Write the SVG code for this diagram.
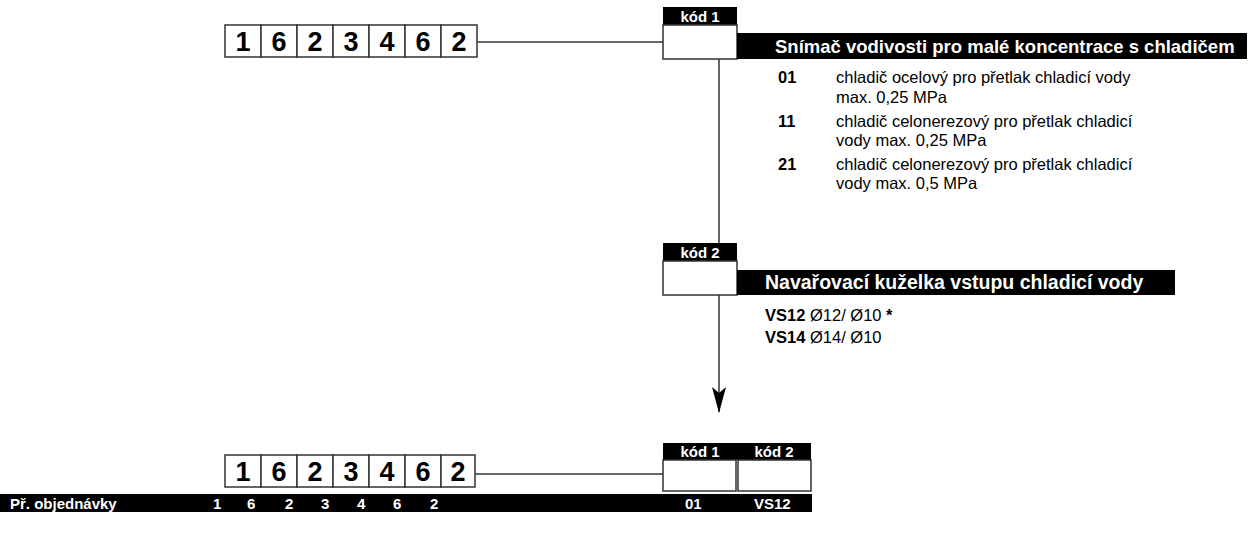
<svg xmlns="http://www.w3.org/2000/svg" width="1258" height="539" viewBox="0 0 1258 539">
<style>
.box{fill:#fff;stroke:#333;stroke-width:1.5}
.dig{font-family:"Liberation Sans",Arial,sans-serif;font-weight:bold;font-size:27px;fill:#000;text-anchor:middle}
.lbl{font-family:"Liberation Sans",Arial,sans-serif;font-weight:bold;font-size:15px;fill:#fff;text-anchor:middle}
.bar{fill:#000}
.ttl{font-family:"Liberation Sans",Arial,sans-serif;font-weight:bold;font-size:18.5px;fill:#fff}
.ord{font-family:"Liberation Sans",Arial,sans-serif;font-weight:bold;font-size:15px;fill:#fff}
.txt{font-family:"Liberation Sans",Arial,sans-serif;font-size:16.5px;fill:#000}
.b{font-weight:bold}
.ln{stroke:#333;stroke-width:1.5;fill:none}
</style>
<defs>
<marker id="arr" markerWidth="26" markerHeight="14" refX="25" refY="7" orient="auto" markerUnits="userSpaceOnUse" viewBox="0 0 26 14">
<path d="M0,0 L26,7 L0,14 L6,7 Z" fill="#000"/>
</marker>
</defs>
<g id="connectors">
<line class="ln" x1="477" y1="42" x2="663" y2="42"/>
<line class="ln" x1="719" y1="59" x2="719" y2="243"/>
<line class="ln" x1="719" y1="295" x2="719" y2="412" marker-end="url(#arr)"/>
<line class="ln" x1="475" y1="474" x2="663" y2="474"/>
</g>
<g id="number-top">
<rect class="box" x="225" y="25" width="36" height="32"/>
<rect class="box" x="261" y="25" width="36" height="32"/>
<rect class="box" x="297" y="25" width="36" height="32"/>
<rect class="box" x="333" y="25" width="36" height="32"/>
<rect class="box" x="369" y="25" width="36" height="32"/>
<rect class="box" x="405" y="25" width="36" height="32"/>
<rect class="box" x="441" y="25" width="36" height="32"/>
<text class="dig" x="243" y="51">1</text>
<text class="dig" x="279" y="51">6</text>
<text class="dig" x="315" y="51">2</text>
<text class="dig" x="351" y="51">3</text>
<text class="dig" x="387" y="51">4</text>
<text class="dig" x="423" y="51">6</text>
<text class="dig" x="459" y="51">2</text>
</g>
<g id="kod1">
<rect class="bar" x="663" y="7" width="74" height="18"/>
<text class="lbl" x="700" y="22">kód 1</text>
<rect class="box" x="663" y="25" width="74" height="34"/>
<rect class="bar" x="737" y="33" width="510" height="26"/>
<text class="ttl" x="775" y="52.5">Snímač vodivosti pro malé koncentrace s chladičem</text>
<text class="txt" x="778" y="83"><tspan class="b">01</tspan><tspan x="836">chladič ocelový pro přetlak chladicí vody</tspan></text>
<text class="txt" x="836" y="103">max. 0,25 MPa</text>
<text class="txt" x="778" y="127"><tspan class="b">11</tspan><tspan x="836">chladič celonerezový pro přetlak chladicí</tspan></text>
<text class="txt" x="836" y="146">vody max. 0,25 MPa</text>
<text class="txt" x="778" y="170"><tspan class="b">21</tspan><tspan x="836">chladič celonerezový pro přetlak chladicí</tspan></text>
<text class="txt" x="836" y="189">vody max. 0,5 MPa</text>
</g>
<g id="kod2">
<rect class="bar" x="663" y="243" width="74" height="18"/>
<text class="lbl" x="700" y="258">kód 2</text>
<rect class="box" x="663" y="261" width="74" height="34"/>
<rect class="bar" x="737" y="270" width="438" height="25"/>
<text class="ttl" x="765" y="289" style="font-size:19.5px">Navařovací kuželka vstupu chladicí vody</text>
<text class="txt" x="765" y="321"><tspan class="b">VS12</tspan> Ø12/ Ø10 <tspan class="b">*</tspan></text>
<text class="txt" x="765" y="343"><tspan class="b">VS14</tspan> Ø14/ Ø10</text>
</g>
<g id="number-bottom">
<rect class="box" x="225" y="455" width="36" height="32"/>
<rect class="box" x="261" y="455" width="36" height="32"/>
<rect class="box" x="297" y="455" width="36" height="32"/>
<rect class="box" x="333" y="455" width="36" height="32"/>
<rect class="box" x="369" y="455" width="36" height="32"/>
<rect class="box" x="405" y="455" width="36" height="32"/>
<rect class="box" x="441" y="455" width="34" height="32"/>
<text class="dig" x="243" y="481">1</text>
<text class="dig" x="279" y="481">6</text>
<text class="dig" x="315" y="481">2</text>
<text class="dig" x="351" y="481">3</text>
<text class="dig" x="387" y="481">4</text>
<text class="dig" x="423" y="481">6</text>
<text class="dig" x="458" y="481">2</text>
</g>
<g id="kod-bottom">
<rect class="bar" x="663" y="443" width="148" height="17"/>
<text class="lbl" x="700" y="457">kód 1</text>
<text class="lbl" x="774" y="457">kód 2</text>
<rect class="box" x="663" y="460" width="73" height="31"/>
<rect class="box" x="738" y="460" width="73" height="31"/>
</g>
<g id="order-bar">
<rect class="bar" x="0" y="494" width="812" height="18"/>
<text class="ord" x="10" y="508.5">Př. objednávky</text>
<text class="ord" x="213" y="508.5">1</text>
<text class="ord" x="247" y="508.5">6</text>
<text class="ord" x="285" y="508.5">2</text>
<text class="ord" x="321" y="508.5">3</text>
<text class="ord" x="357" y="508.5">4</text>
<text class="ord" x="393" y="508.5">6</text>
<text class="ord" x="430" y="508.5">2</text>
<text class="ord" x="685" y="508.5">01</text>
<text class="ord" x="754" y="508.5">VS12</text>
</g>
</svg>
